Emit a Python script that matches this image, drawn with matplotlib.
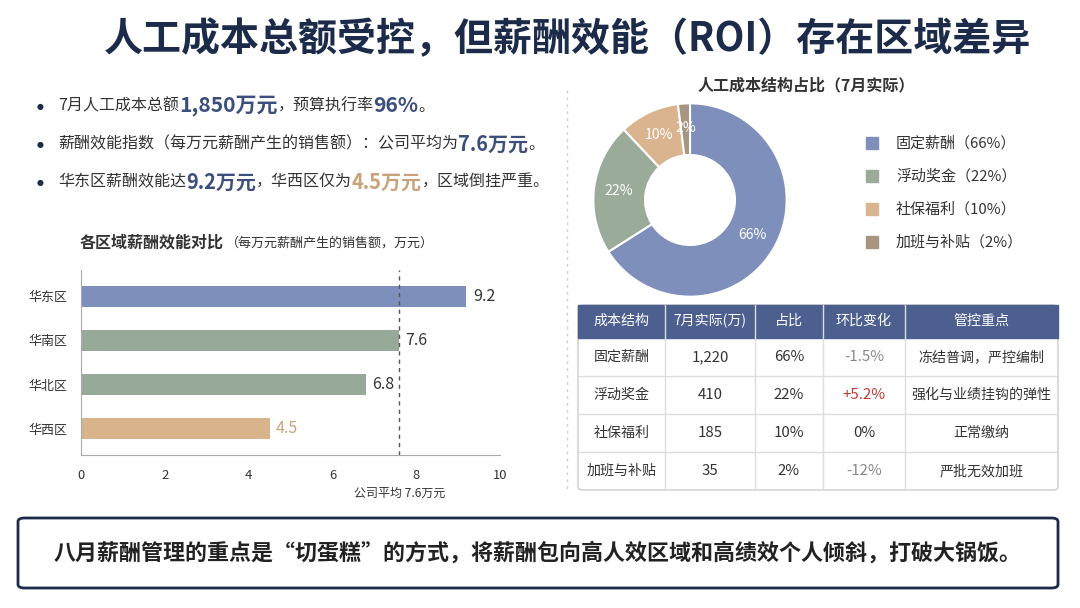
import matplotlib
matplotlib.use('Agg')
import matplotlib.pyplot as plt
from matplotlib.patches import FancyBboxPatch, Rectangle
import numpy as np

plt.rcParams['font.family'] = ['Noto Sans CJK SC', 'DejaVu Sans']

# data
regions = ['华东区', '华南区', '华北区', '华西区']
efficiency = [9.2, 7.6, 6.8, 4.5]
company_avg = 7.6
bar_colors = ['#7f8fbb', '#97a998', '#97a998', '#d9b38c']

cost_items = ['固定薪酬', '浮动奖金', '社保福利', '加班与补贴']
cost_share = [66, 22, 10, 2]
pie_colors = ['#7f8fbb', '#9aab9a', '#d9b48f', '#a89580']

table_header = ['成本结构', '7月实际(万)', '占比', '环比变化', '管控重点']
table_actual = ['1,220', '410', '185', '35']
table_change = ['-1.5%', '+5.2%', '0%', '-12%']
table_focus = ['冻结普调，严控编制', '强化与业绩挂钩的弹性', '正常缴纳', '严批无效加班']

W, H = 1080, 608
NAVY = '#1c2b4a'
fig = plt.figure(figsize=(W / 100, H / 100), dpi=100)
fig.patch.set_facecolor('white')

def fx(x): return x / W
def fy(y): return 1 - y / H
def pt(px): return px * 0.72

# title
fig.text(fx(568), fy(40), '人工成本总额受控，但薪酬效能（ROI）存在区域差异', ha='center', va='center',
         fontsize=pt(39), fontweight='bold', color=NAVY)

# bullets
bullets = [
    [('7月人工成本总额', 16, '#333333'), ('1,850万元', 21, '#3c4f7c'), ('，预算执行率', 16, '#333333'), ('96%', 21, '#3c4f7c'), ('。', 16, '#333333')],
    [('薪酬效能指数（每万元薪酬产生的销售额）：公司平均为', 16, '#333333'), ('7.6万元', 20, '#3c4f7c'), ('。', 16, '#333333')],
    [('华东区薪酬效能达', 16, '#333333'), ('9.2万元', 20, '#3c4f7c'), ('，华西区仅为', 16, '#333333'), ('4.5万元', 20, '#c9a27a'), ('，区域倒挂严重。', 16, '#333333')],
]
fig.canvas.draw()
r = fig.canvas.get_renderer()
for i, parts in enumerate(bullets):
    y = 106 + i * 38
    fig.text(fx(40), fy(y), '●', ha='center', va='center', fontsize=pt(8), color=NAVY, family='DejaVu Sans')
    x = 58
    for s, size, c in parts:
        t = fig.text(fx(x), fy(y), s, ha='left', va='center', fontsize=pt(size), color=c,
                     fontweight='bold' if size > 16 else 'normal')
        x += t.get_window_extent(renderer=r).width

# separator
fig.add_artist(plt.Line2D([fx(567), fx(567)], [fy(90), fy(490)], color='#d0d0d0', lw=1, ls=(0, (2, 3))))

# bar chart
fig.text(fx(80), fy(242), '各区域薪酬效能对比', ha='left', va='center', fontsize=pt(16), fontweight='bold', color='#333333')
fig.text(fx(226), fy(243), '（每万元薪酬产生的销售额，万元）', ha='left', va='center', fontsize=pt(13), color='#333333')
ax = fig.add_axes([fx(81), fy(455), fx(500 - 81), (455 - 270) / H])
ypos = list(range(len(regions)))[::-1]
ax.barh(ypos, efficiency, height=0.48, color=bar_colors)
for yv, v, c in zip(ypos, efficiency, bar_colors):
    ax.text(v + 0.15, yv, f'{v}', va='center', ha='left', fontsize=pt(16),
            color='#c9a27a' if c == '#d9b38c' else '#333333')
ax.axvline(company_avg, color='#555555', lw=1, ls=(0, (3, 3)))
ax.set_xlim(0, 10)
ax.set_ylim(-0.6, 3.6)
ax.set_yticks(ypos)
ax.set_yticklabels(regions, fontsize=pt(13))
ax.set_xticks([0, 2, 4, 6, 8, 10])
ax.tick_params(axis='both', length=0, labelsize=pt(13), colors='#333333', pad=10)
for s in ['top', 'right']:
    ax.spines[s].set_visible(False)
for s in ['left', 'bottom']:
    ax.spines[s].set_color('#aaaaaa')
ax.text(company_avg, -0.17, '公司平均 7.6万元', transform=ax.get_xaxis_transform(), ha='center', va='top',
        fontsize=pt(12), color='#333333')

# pie
fig.text(fx(806), fy(85), '人工成本结构占比（7月实际）', ha='center', va='center', fontsize=pt(16), fontweight='bold', color='#333333')
axp = fig.add_axes([fx(590), fy(300), fx(200), 200 / H])
wedges, texts = axp.pie(cost_share, colors=pie_colors, startangle=90, counterclock=False, radius=1.16,
                        wedgeprops=dict(width=0.62, edgecolor='white', linewidth=1.5))
for w, v in zip(wedges, cost_share):
    ang = np.deg2rad((w.theta1 + w.theta2) / 2)
    rr = 0.86
    axp.text(rr * np.cos(ang), rr * np.sin(ang), f'{v}%', ha='center', va='center', fontsize=pt(14), color='white')
axp.set_xlim(-1.2, 1.2)
axp.set_ylim(-1.2, 1.2)
axp.set_aspect('equal')
for i, (name, v, c) in enumerate(zip(cost_items, cost_share, pie_colors)):
    y = 143 + i * 33
    fig.add_artist(Rectangle((fx(866), fy(y + 6)), fx(12), 12 / H, color=c))
    fig.text(fx(896), fy(y), f'{name}（{v}%）', ha='left', va='center', fontsize=pt(15), color='#333333')

# table
cols = [578, 665, 755, 823, 905, 1058]
rows = [305, 338, 376, 414, 452, 490]
fig.add_artist(FancyBboxPatch((fx(578), fy(490)), fx(480), 185 / H, boxstyle='round,pad=0,rounding_size=0.005',
                              fc='white', ec='#cccccc', lw=1))
fig.add_artist(Rectangle((fx(578), fy(338)), fx(480), 33 / H, color='#4c5f8f'))
for j, h in enumerate(table_header):
    fig.text(fx((cols[j] + cols[j + 1]) / 2), fy(321), h, ha='center', va='center', fontsize=pt(14), color='white')
for i in range(4):
    yc = (rows[i + 1] + rows[i + 2]) / 2
    chg_color = '#c0392b' if table_change[i].startswith('+') else ('#333333' if table_change[i] == '0%' else '#888888')
    vals = [cost_items[i], table_actual[i], f'{cost_share[i]}%', table_change[i], table_focus[i]]
    for j, v in enumerate(vals):
        fig.text(fx((cols[j] + cols[j + 1]) / 2), fy(yc), v, ha='center', va='center',
                 fontsize=pt(15 if j in (1, 2, 3) else 14), color=chg_color if j == 3 else '#333333')
    if i < 3:
        fig.add_artist(plt.Line2D([fx(578), fx(1058)], [fy(rows[i + 2])] * 2, color='#dddddd', lw=1))
for c in cols[1:-1]:
    fig.add_artist(plt.Line2D([fx(c), fx(c)], [fy(305), fy(490)], color='#dddddd', lw=1))

# bottom box
fig.add_artist(FancyBboxPatch((fx(18), fy(588)), fx(1040), 70 / H, boxstyle='round,pad=0,rounding_size=0.006',
                              fc='white', ec=NAVY, lw=2))
fig.text(fx(538), fy(553), '八月薪酬管理的重点是“切蛋糕”的方式，将薪酬包向高人效区域和高绩效个人倾斜，打破大锅饭。',
         ha='center', va='center', fontsize=pt(22), fontweight='bold', color='#222222')

fig.savefig('out.png', dpi=100, facecolor='white')
